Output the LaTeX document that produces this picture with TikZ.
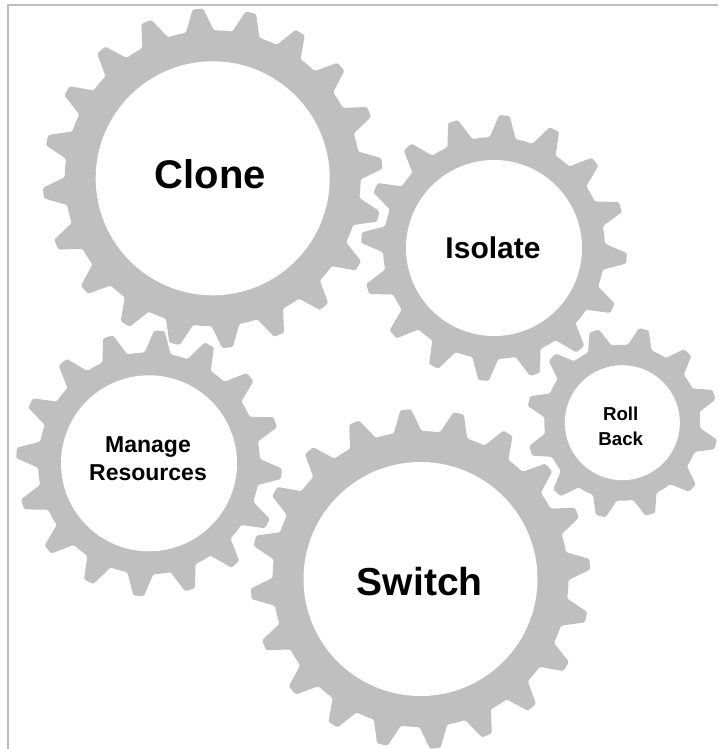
\documentclass[tikz,border=0pt]{standalone}
\usepackage{fontspec}
\setmainfont{Liberation Sans}
\definecolor{gearfill}{HTML}{BFBFBF}

\begin{document}
\begin{tikzpicture}[x=1pt,y=1pt,
    gear/.style={fill=gearfill,rounded corners=1.5pt},
    hub/.style={circle,fill=white,inner sep=0pt,outer sep=0pt},
    caption/.style={anchor=base,align=center,inner sep=0pt}]
    \useasboundingbox (0,0) rectangle (718,-749);
    \draw[gearfill,line width=2pt] (718,-5) -- (7.5,-5) -- (7.5,-749);
    % centre x/y, radii hub/root/tip, teeth, phase, then the text with its size and baseline
    \foreach \X/\Cx/\Cy/\Rhub/\Rroot/\Rtip/\Teeth/\Phase/\Tx/\Ty/\Fs/\Ls [count=\Y] in
    {Clone/212.7/-178.3/117/148/170/20/95/210.5/-188.3/40/40,
     Isolate/494/-248/88/111/133/16/85.5/493/-258.3/30/30,
     {Manage\\Resources}/149/-463.3/88/111/133/16/85.5/148/-480/23/27.7,
     {Roll\\Back}/622.3/-422.7/57.5/78/96/12/77/620.7/-445/18.7/24.3,
     Switch/420.5/-579/117/148/170/20/95/419.7/-595/39/39}
     {\pgfmathsetmacro{\Pitch}{360/\Teeth}
      \fill[gear,shift={(\Cx,\Cy)}] ({\Phase+0.5*\Pitch}:\Rroot)
        \foreach \Z [evaluate=\Z as \Ang using {\Phase-(\Z-1)*\Pitch}] in {1,...,\Teeth}
        {-- ({\Ang+0.3*\Pitch}:\Rroot) -- ({\Ang+0.1*\Pitch}:\Rtip)
         -- ({\Ang-0.1*\Pitch}:\Rtip) -- ({\Ang-0.3*\Pitch}:\Rroot)
         -- ({\Ang-0.5*\Pitch}:\Rroot)};
      \node[hub,minimum size=2*\Rhub] (H-\Y) at (\Cx,\Cy) {};
      \node[caption,font=\bfseries\fontsize{\Fs}{\Ls}\selectfont] (T-\Y) at (\Tx,\Ty) {\X};}
\end{tikzpicture}
\end{document}
